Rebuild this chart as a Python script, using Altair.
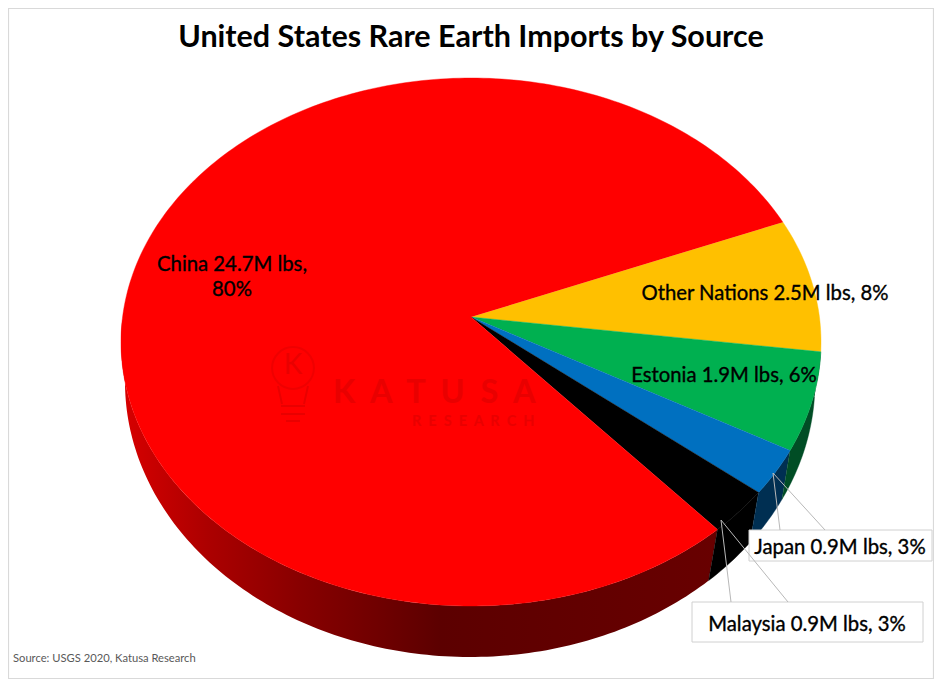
import numpy as np
import pandas as pd
import altair as alt

# ---- values
sources = ["Other Nations", "Estonia", "Japan", "Malaysia", "China"]
million_lbs = [2.5, 1.9, 0.9, 0.9, 24.7]
top_colors = ["#ffc000", "#00b050", "#0070c0", "#000000", "#ff0000"]
wall_colors = ["#664d00", "#004d25", "#002f52", "#000000", None]
title_text = "United States Rare Earth Imports by Source"
source_text = "Source: USGS 2020, Katusa Research"
labels = ["China 24.7M lbs,", "80%", "Other Nations 2.5M lbs, 8%", "Estonia 1.9M lbs, 6%",
          "Japan 0.9M lbs, 3%", "Malaysia 0.9M lbs, 3%"]
label_x = [232, 232, 765, 724, 840, 807]
label_y = [265, 290, 294, 376, 548, 625]

# ---- page geometry (screen pixels)
W, H = 926, 671
X0, Y0 = 8, 8
FONT = "Lato"
xs = alt.Scale(domain=[X0, X0 + W], nice=False, zero=False)
ys = alt.Scale(domain=[Y0 + H, Y0], nice=False, zero=False)
X = lambda f="x": alt.X(f"{f}:Q", scale=xs, axis=None)
Y = lambda f="y": alt.Y(f"{f}:Q", scale=ys, axis=None)

TOP = dict(cx=471, cy=342, rx=350, ry=264)
BOT = dict(cx=470, cy=382, rx=345, ry=275)
HUB = (471, 317)
START = 27.0
WALL_SKEW = -1.0

def rim(e, t):
    t = np.radians(t)
    return e["cx"] + e["rx"] * np.cos(t), e["cy"] - e["ry"] * np.sin(t)

def poly(px, py):
    return pd.DataFrame({"x": px, "y": py, "i": np.arange(len(px))})

def shape(df, fill):
    is_flat = isinstance(fill, str)
    return alt.Chart(df).mark_line(fill=fill, stroke=fill if is_flat else "transparent",
                                   strokeWidth=0.4, interpolate="linear").encode(
        x=X(), y=Y(), order=alt.Order("i:Q"))

total = sum(million_lbs)
sweeps = [v / total * 360 for v in million_lbs]
edges = [START]
for s in sweeps:
    edges.append(edges[-1] - s)

layers = []

# frame
frame = pd.DataFrame({"x": [X0 + 0.5], "x2": [X0 + W - 0.5], "y": [Y0 + 0.5], "y2": [Y0 + H - 0.5]})
layers.append(alt.Chart(frame).mark_rect(fill="white", stroke="#d9d9d9", strokeWidth=1.2).encode(
    x=X(), x2="x2:Q", y=Y(), y2="y2:Q"))

red_wall = alt.Gradient(gradient="linear", x1=0, x2=1, y1=0, y2=0, stops=[
    alt.GradientStop(offset=0, color="#d80000"),
    alt.GradientStop(offset=0.145, color="#ac0000"),
    alt.GradientStop(offset=0.30, color="#880000"),
    alt.GradientStop(offset=0.535, color="#5c0000"),
    alt.GradientStop(offset=1, color="#680000"),
])

# side walls
for k in [4, 3, 2, 1]:
    a, b = edges[k], edges[k + 1]
    if k == 4:
        b = -185.0
    t = np.linspace(a, b, max(4, int(abs(a - b)) + 2))
    tx, ty = rim(TOP, t)
    bx, by = rim(BOT, t[::-1] + WALL_SKEW)
    layers.append(shape(poly(np.r_[tx, bx], np.r_[ty, by]), red_wall if k == 4 else wall_colors[k]))

# top face
for k in range(len(sources)):
    t = np.linspace(edges[k], edges[k + 1], max(4, int(abs(edges[k] - edges[k + 1])) + 2))
    rx_, ry_ = rim(TOP, t)
    layers.append(shape(poly(np.r_[HUB[0], rx_], np.r_[HUB[1], ry_]), top_colors[k]))

# watermark
WM = "#e90000"
NB = "\u00a0\u00a0"
wm = pd.DataFrame({"x": [333, 412], "y": [393, 422],
                   "t": [NB.join("KATUSA"), NB.join("RESEARCH")], "s": [32.5, 14.5]})
layers.append(alt.Chart(wm).mark_text(font=FONT, fontWeight="bold", align="left", baseline="middle",
                                      color=WM).encode(
    x=X(), y=Y(), text="t:N", size=alt.Size("s:Q", scale=None, legend=None)))
layers.append(alt.Chart(pd.DataFrame({"x": [293], "y": [366], "t": ["K"]})).mark_text(
    font=FONT, fontSize=28, align="center", baseline="middle", color=WM).encode(x=X(), y=Y(), text="t:N"))
layers.append(alt.Chart(pd.DataFrame({"x": [293], "y": [368]})).mark_point(
    shape="circle", size=1750, filled=False, stroke=WM, strokeWidth=2).encode(x=X(), y=Y()))
bulb_rules = pd.DataFrame({"x": [278, 308, 281, 281, 286], "x2": [282, 304, 305, 305, 300],
                           "y": [386, 386, 406, 414, 421], "y2": [404, 404, 406, 414, 421]})
layers.append(alt.Chart(bulb_rules).mark_rule(stroke=WM, strokeWidth=2).encode(
    x=X(), x2="x2:Q", y=Y(), y2="y2:Q"))

# callouts
def segs(rows):
    return pd.DataFrame(rows, columns=["x", "y", "x2", "y2"])

def rules(df):
    return alt.Chart(df).mark_rule(stroke="#b8b8b8", strokeWidth=1).encode(x=X(), x2="x2:Q", y=Y(), y2="y2:Q")

def box(x, x2, y, y2):
    return alt.Chart(pd.DataFrame({"x": [x], "x2": [x2], "y": [y], "y2": [y2]})).mark_rect(
        fill="white", stroke="#d0d0d0", strokeWidth=1).encode(x=X(), x2="x2:Q", y=Y(), y2="y2:Q")

layers.append(box(749, 932, 530, 561))
layers.append(rules(segs([[773, 473, 780, 530], [773, 473, 825, 530]])))
layers.append(box(692, 923, 602, 642))
layers.append(rules(segs([[721, 520, 731, 602], [721, 520, 788, 602]])))

# labels
lab = pd.DataFrame({"x": label_x, "y": label_y, "t": labels})
layers.append(alt.Chart(lab).mark_text(font=FONT, fontSize=20.3, color="#000000", stroke="#000000", strokeWidth=0.35,
                                       baseline="middle", align="center").encode(x=X(), y=Y(), text="t:N"))
# title and source
layers.append(alt.Chart(pd.DataFrame({"x": [471], "y": [38], "t": [title_text]})).mark_text(
    font=FONT, fontSize=30.5, fontWeight="bold", color="#000000", baseline="middle", align="center").encode(
    x=X(), y=Y(), text="t:N"))
layers.append(alt.Chart(pd.DataFrame({"x": [13], "y": [659], "t": [source_text]})).mark_text(
    font=FONT, fontSize=11.2, color="#595959", baseline="middle", align="left").encode(
    x=X(), y=Y(), text="t:N"))

chart = alt.layer(*layers).properties(width=W, height=H, padding=0, background="white",
                                      autosize=alt.AutoSizeParams(type="none")).configure_view(stroke=None)
chart.save("out.html", embed_options={"renderer": "svg", "actions": False})
